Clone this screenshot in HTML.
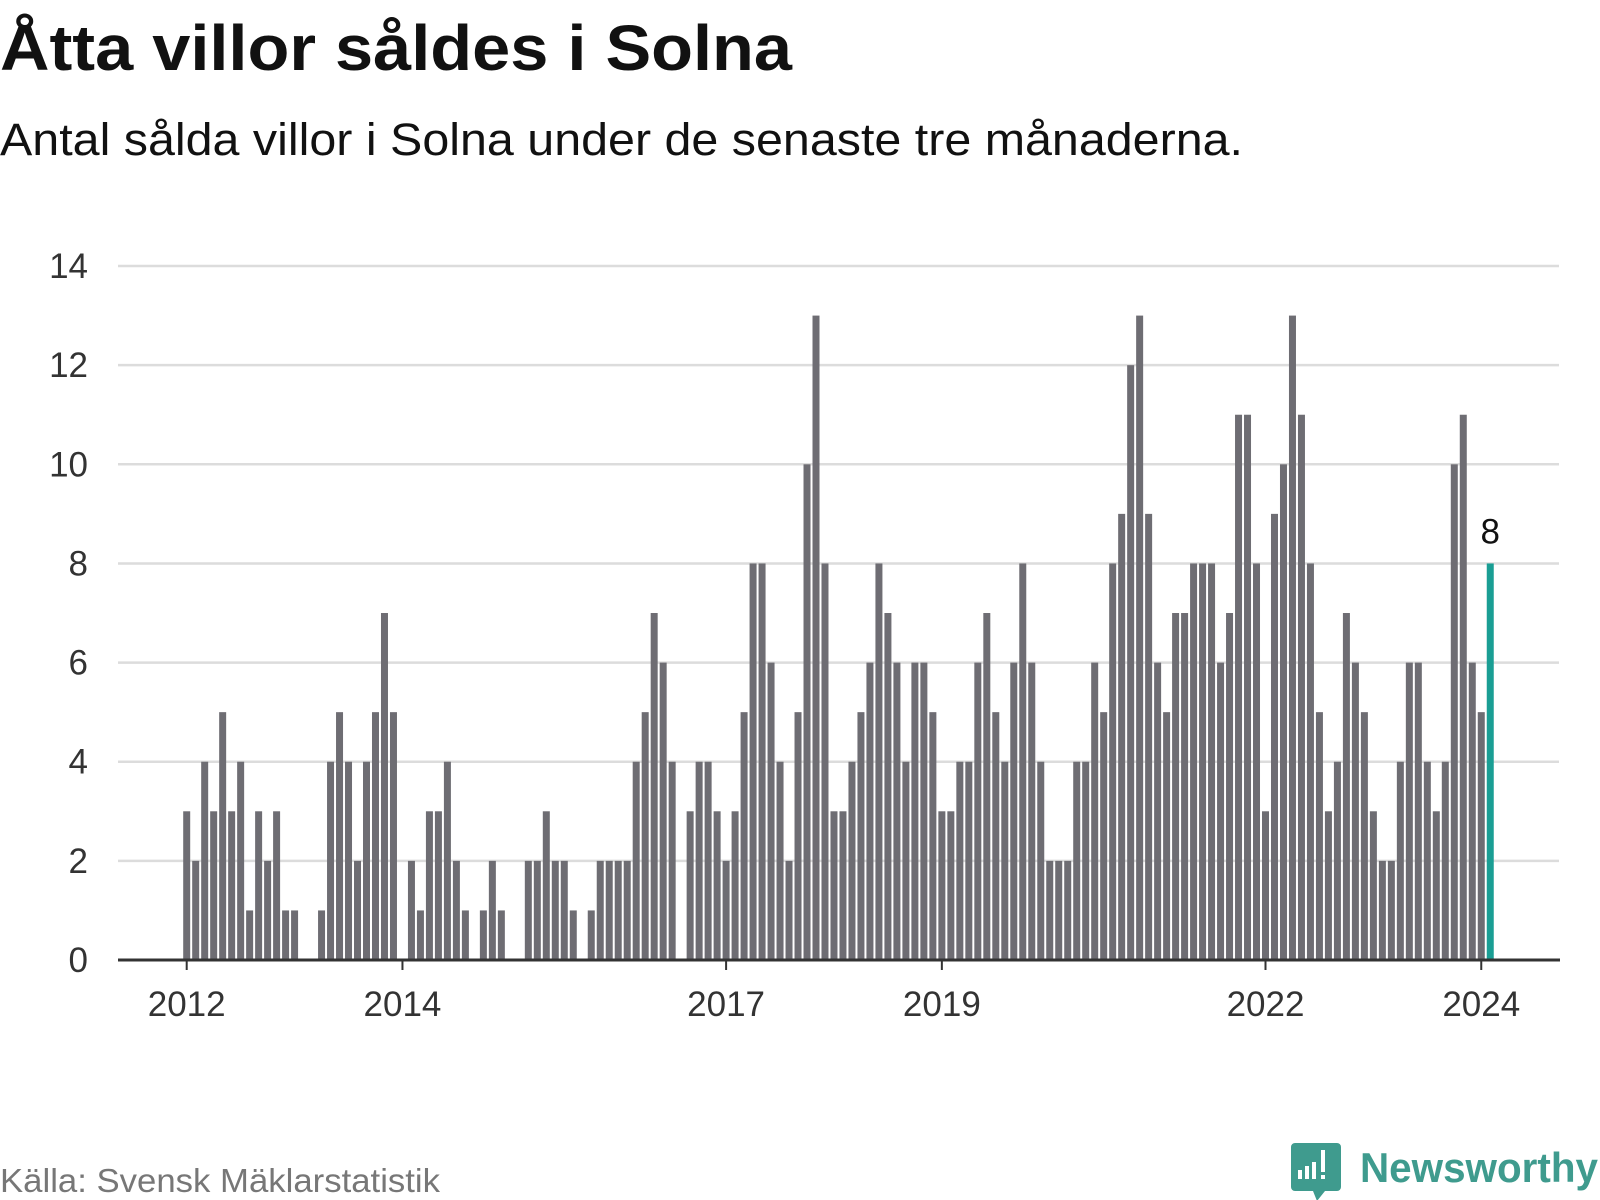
<!DOCTYPE html>
<html><head><meta charset="utf-8"><style>
html,body{margin:0;padding:0;background:#fff;}
svg{display:block;font-family:"Liberation Sans",sans-serif;}
</style></head><body>
<svg id="chart" width="1600" height="1200" viewBox="0 0 1600 1200">
<text x="0" y="70" font-size="64" font-weight="bold" fill="#111" textLength="792" lengthAdjust="spacingAndGlyphs">Åtta villor såldes i Solna</text>
<text x="0" y="155" font-size="45" fill="#111" textLength="1243" lengthAdjust="spacingAndGlyphs">Antal sålda villor i Solna under de senaste tre månaderna.</text>
<g id="grid"></g>
<g id="bars"></g>
<g id="xaxis"></g>
<text x="0" y="1192" font-size="33" fill="#777" textLength="440" lengthAdjust="spacingAndGlyphs">Källa: Svensk Mäklarstatistik</text>
<g>
<path d="M1295 1143 h42 a4 4 0 0 1 4 4 v40 a4 4 0 0 1 -4 4 h-12 l-8 10 l-4 -10 h-18 a4 4 0 0 1 -4 -4 v-40 a4 4 0 0 1 4 -4z" fill="#3f9b8e"/>
<rect x="1298" y="1170" width="4" height="9" fill="#fff"/>
<rect x="1305" y="1166" width="4" height="13" fill="#fff"/>
<rect x="1312" y="1162" width="4" height="17" fill="#fff"/>
<rect x="1321" y="1150" width="4" height="22" fill="#fff"/>
<rect x="1321" y="1175" width="4" height="4" fill="#fff"/>
<text x="1360" y="1182" font-size="42" font-weight="bold" fill="#3f9b8e" textLength="238" lengthAdjust="spacingAndGlyphs">Newsworthy</text>
</g>
</svg>
<script>
const values = [3,2,4,3,5,3,4,1,3,2,3,1,
1,0,0,1,4,5,4,2,4,5,7,5,
0,2,1,3,3,4,2,1,0,1,2,1,
0,0,2,2,3,2,2,1,0,1,2,2,
2,2,4,5,7,6,4,0,3,4,4,3,
2,3,5,8,8,6,4,2,5,10,13,8,
3,3,4,5,6,8,7,6,4,6,6,5,
3,3,4,4,6,7,5,4,6,8,6,4,
2,2,2,4,4,6,5,8,9,12,13,9,
6,5,7,7,8,8,8,6,7,11,11,8,
3,9,10,13,11,8,5,3,4,7,6,5,
3,2,2,4,6,6,4,3,4,10,11,6,
5,8];
const yTicks = [0,2,4,6,8,10,12,14];
const xTickLabels = ["2012","2014","2017","2019","2022","2024"];
const xTickIndex = [0,24,60,84,120,144];

const NS="http://www.w3.org/2000/svg";
const y0=960, perUnit=49.57, x0=186.7, pitch=8.99, bw=7;
const yS=v=>y0-v*perUnit;
const xS=i=>x0+i*pitch;
function mk(tag,attrs,parent){const e=document.createElementNS(NS,tag);for(const k in attrs)e.setAttribute(k,attrs[k]);parent.appendChild(e);return e;}
const grid=document.getElementById('grid'),bars=document.getElementById('bars'),xa=document.getElementById('xaxis');
yTicks.forEach(t=>{
  if(t>0){const l=mk('line',{x1:118,x2:1559,y1:yS(t),y2:yS(t),stroke:'#dcdcdc','stroke-width':2.5},grid);
  
  }
  const tx=mk('text',{x:88,y:yS(t)+12,'text-anchor':'end','font-size':35,fill:'#333'},grid);
  tx.textContent=t;
  
  
});
const last=values.length-1;
values.forEach((v,i)=>{
  if(v<=0)return;
  const r=mk('rect',{x:xS(i)-bw/2,y:yS(v),width:bw,height:v*perUnit,fill:i===last?'#1a9e94':'#6e6d73'},bars);
  
  
});
const lab=mk('text',{x:xS(last),y:yS(values[last])-20,'text-anchor':'middle','font-size':35,fill:'#111'},bars);
lab.textContent=values[last];


const ax=mk('line',{x1:118,x2:1560,y1:y0,y2:y0,stroke:'#333','stroke-width':3},xa);


xTickLabels.forEach((s,k)=>{
  const x=xS(xTickIndex[k]);
  const tk=mk('line',{x1:x,x2:x,y1:y0,y2:y0+10,stroke:'#333','stroke-width':2},xa);
  
  
  const t=mk('text',{x:x,y:1016,'text-anchor':'middle','font-size':35,fill:'#333'},xa);
  t.textContent=s;
  
  
});
</script>
</body></html>
